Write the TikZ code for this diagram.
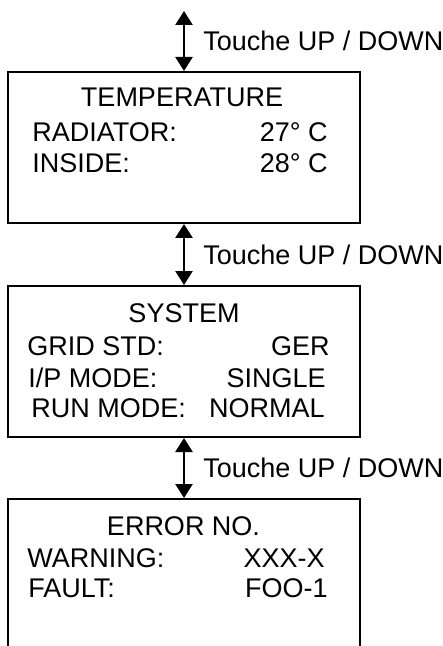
\documentclass[tikz,border=0pt]{standalone}
\usepackage{fontspec}
\setmainfont{Liberation Sans}
\usetikzlibrary{arrows.meta}

\tikzset{
  menubox/.style={draw=black,line width=1pt,minimum width=176pt,minimum height=75.5pt,inner sep=0pt},
  updown/.style={{Triangle[length=7pt,width=8.5pt]}-{Triangle[length=7pt,width=8.5pt]},line width=1.3pt},
  txt/.style={inner sep=0pt,font=\fontsize{13.5}{16}\selectfont}
}

\begin{document}
\begin{tikzpicture}[x=0.5pt,y=-0.5pt]
\clip (0,0) rectangle (443,646);

% menu screens
\node[menubox] (temp) at (184,147.5) {};
\node[menubox] (sys) at (184,361.5) {};
\node[menubox] (err) at (184,574.5) {};
%\node[menubox] (err) at (184,574.5) {};

% temperature
\node[txt,anchor=base] (tempT) at (182,107) {TEMPERATURE};
\node[txt,anchor=base west] (radL) at (32,142) {RADIATOR:};
\node[txt,anchor=base east] (radV) at (328,142) {27° C};
\node[txt,anchor=base west] (insL) at (32,173) {INSIDE:};
\node[txt,anchor=base east] (insV) at (328,173) {28° C};

% system
\node[txt,anchor=base] (sysT) at (184,322) {SYSTEM};
\node[txt,anchor=base west] (gridL) at (27,355) {GRID STD:};
\node[txt,anchor=base east] (gridV) at (330,355) {GER};
\node[txt,anchor=base west] (ipL) at (28,387) {I/P MODE:};
\node[txt,anchor=base east] (ipV) at (326,387) {SINGLE};
\node[txt,anchor=base west] (runL) at (31,417) {RUN MODE:};
\node[txt,anchor=base east] (runV) at (325,417) {NORMAL};

% error
\node[txt,anchor=base] (errT) at (183.5,535) {ERROR NO.};
\node[txt,anchor=base west] (warnL) at (27,567) {WARNING:};
\node[txt,anchor=base east] (warnV) at (325,567) {XXX-X};
\node[txt,anchor=base west] (faultL) at (28,597) {FAULT:};
\node[txt,anchor=base east] (faultV) at (328,597) {FOO-1};

% keys
\coordinate (up) at (184,11);
\draw[updown] (up) -- (temp.north) node[txt,midway,anchor=west,xshift=9pt] (k1) {Touche UP / DOWN};
\draw[updown] (temp.south) -- (sys.north) node[txt,midway,anchor=west,xshift=9pt] (k2) {Touche UP / DOWN};
\draw[updown] (sys.south) -- (err.north) node[txt,midway,anchor=west,xshift=9pt] (k3) {Touche UP / DOWN};

\end{tikzpicture}
\end{document}
